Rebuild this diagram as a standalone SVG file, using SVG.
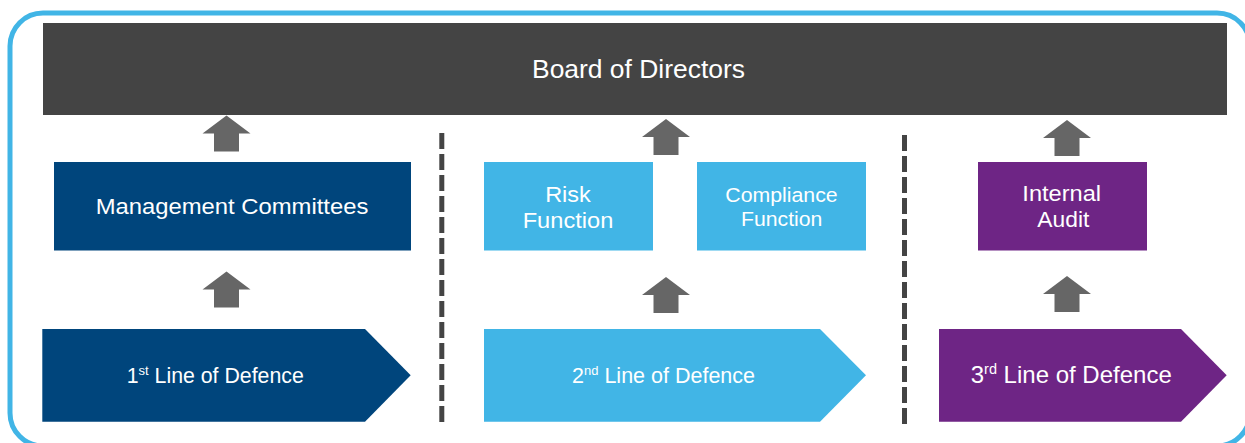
<svg xmlns="http://www.w3.org/2000/svg" width="1245" height="443" viewBox="0 0 1245 443">
<style>
.t{font-family:"Liberation Sans",Arial,sans-serif;fill:#fff;text-anchor:middle}
.s{font-family:"Liberation Sans",Arial,sans-serif;fill:#fff}
.arr{fill:#666}
.dash{stroke:#444;stroke-width:5;stroke-dasharray:16 5}
.db{fill:#00457C}.lb{fill:#41B5E6}.pu{fill:#6E2585}
</style>
<defs>
<path id="up" d="M0 0 L24 18 L12.5 18 L12.5 36 L-12.5 36 L-12.5 18 L-24 18 Z"/>
</defs>
<rect x="10" y="13" width="1240" height="433" rx="33" fill="none" stroke="#41B5E6" stroke-width="5"/>
<g id="board">
<rect x="43" y="23" width="1184" height="92" fill="#444"/>
<text class="t" x="638.5" y="78" font-size="25" textLength="213" lengthAdjust="spacingAndGlyphs">Board of Directors</text>
</g>
<g id="connectors">
<use href="#up" class="arr" x="226.5" y="115.5"/>
<use href="#up" class="arr" x="666" y="119"/>
<use href="#up" class="arr" x="1067" y="120"/>
<use href="#up" class="arr" x="226.5" y="271.5"/>
<use href="#up" class="arr" x="666" y="277"/>
<use href="#up" class="arr" x="1067" y="276"/>
<line class="dash" x1="441.8" y1="133" x2="441.8" y2="427"/>
<line class="dash" x1="904.5" y1="135" x2="904.5" y2="427"/>
</g>
<g id="mgmt">
<rect class="db" x="54" y="162" width="357" height="88.5"/>
<text class="t" x="232" y="214" font-size="22.5" textLength="272.6" lengthAdjust="spacingAndGlyphs">Management Committees</text>
</g>
<g id="risk">
<rect class="lb" x="484" y="162" width="169" height="88.5"/>
<text class="t" x="568" y="201.7" font-size="22.5" textLength="45.7" lengthAdjust="spacingAndGlyphs">Risk</text>
<text class="t" x="568" y="228.3" font-size="22.5" textLength="90.6" lengthAdjust="spacingAndGlyphs">Function</text>
</g>
<g id="compliance">
<rect class="lb" x="697" y="162" width="169" height="88.5"/>
<text class="t" x="781.5" y="201.7" font-size="20.5" textLength="112.4" lengthAdjust="spacingAndGlyphs">Compliance</text>
<text class="t" x="781.7" y="226" font-size="20.5" textLength="81.3" lengthAdjust="spacingAndGlyphs">Function</text>
</g>
<g id="audit">
<rect class="pu" x="978" y="162" width="169" height="88.5"/>
<text class="t" x="1061.7" y="201" font-size="21.5" textLength="78.7" lengthAdjust="spacingAndGlyphs">Internal</text>
<text class="t" x="1063.3" y="226.7" font-size="21.5" textLength="52" lengthAdjust="spacingAndGlyphs">Audit</text>
</g>
<g id="line1">
<polygon class="db" points="42.3,329 365,329 410.7,375.3 365,421.7 42.3,421.7"/>
<text class="s" x="126.7" y="382.7" font-size="21.3">1<tspan font-size="13" dy="-8">st</tspan><tspan dy="8"> Line of Defence</tspan></text>
</g>
<g id="line2">
<polygon class="lb" points="484,329 820,329 866,375.3 820,421.7 484,421.7"/>
<text class="s" x="572" y="383" font-size="21.5">2<tspan font-size="13" dy="-8">nd</tspan><tspan dy="8"> Line of Defence</tspan></text>
</g>
<g id="line3">
<polygon class="pu" points="939,329 1181,329 1226.7,375.3 1181,421.7 939,421.7"/>
<text class="s" x="970.7" y="383.3" font-size="24">3<tspan font-size="14.5" dy="-9">rd</tspan><tspan dy="9"> Line of Defence</tspan></text>
</g>
</svg>
